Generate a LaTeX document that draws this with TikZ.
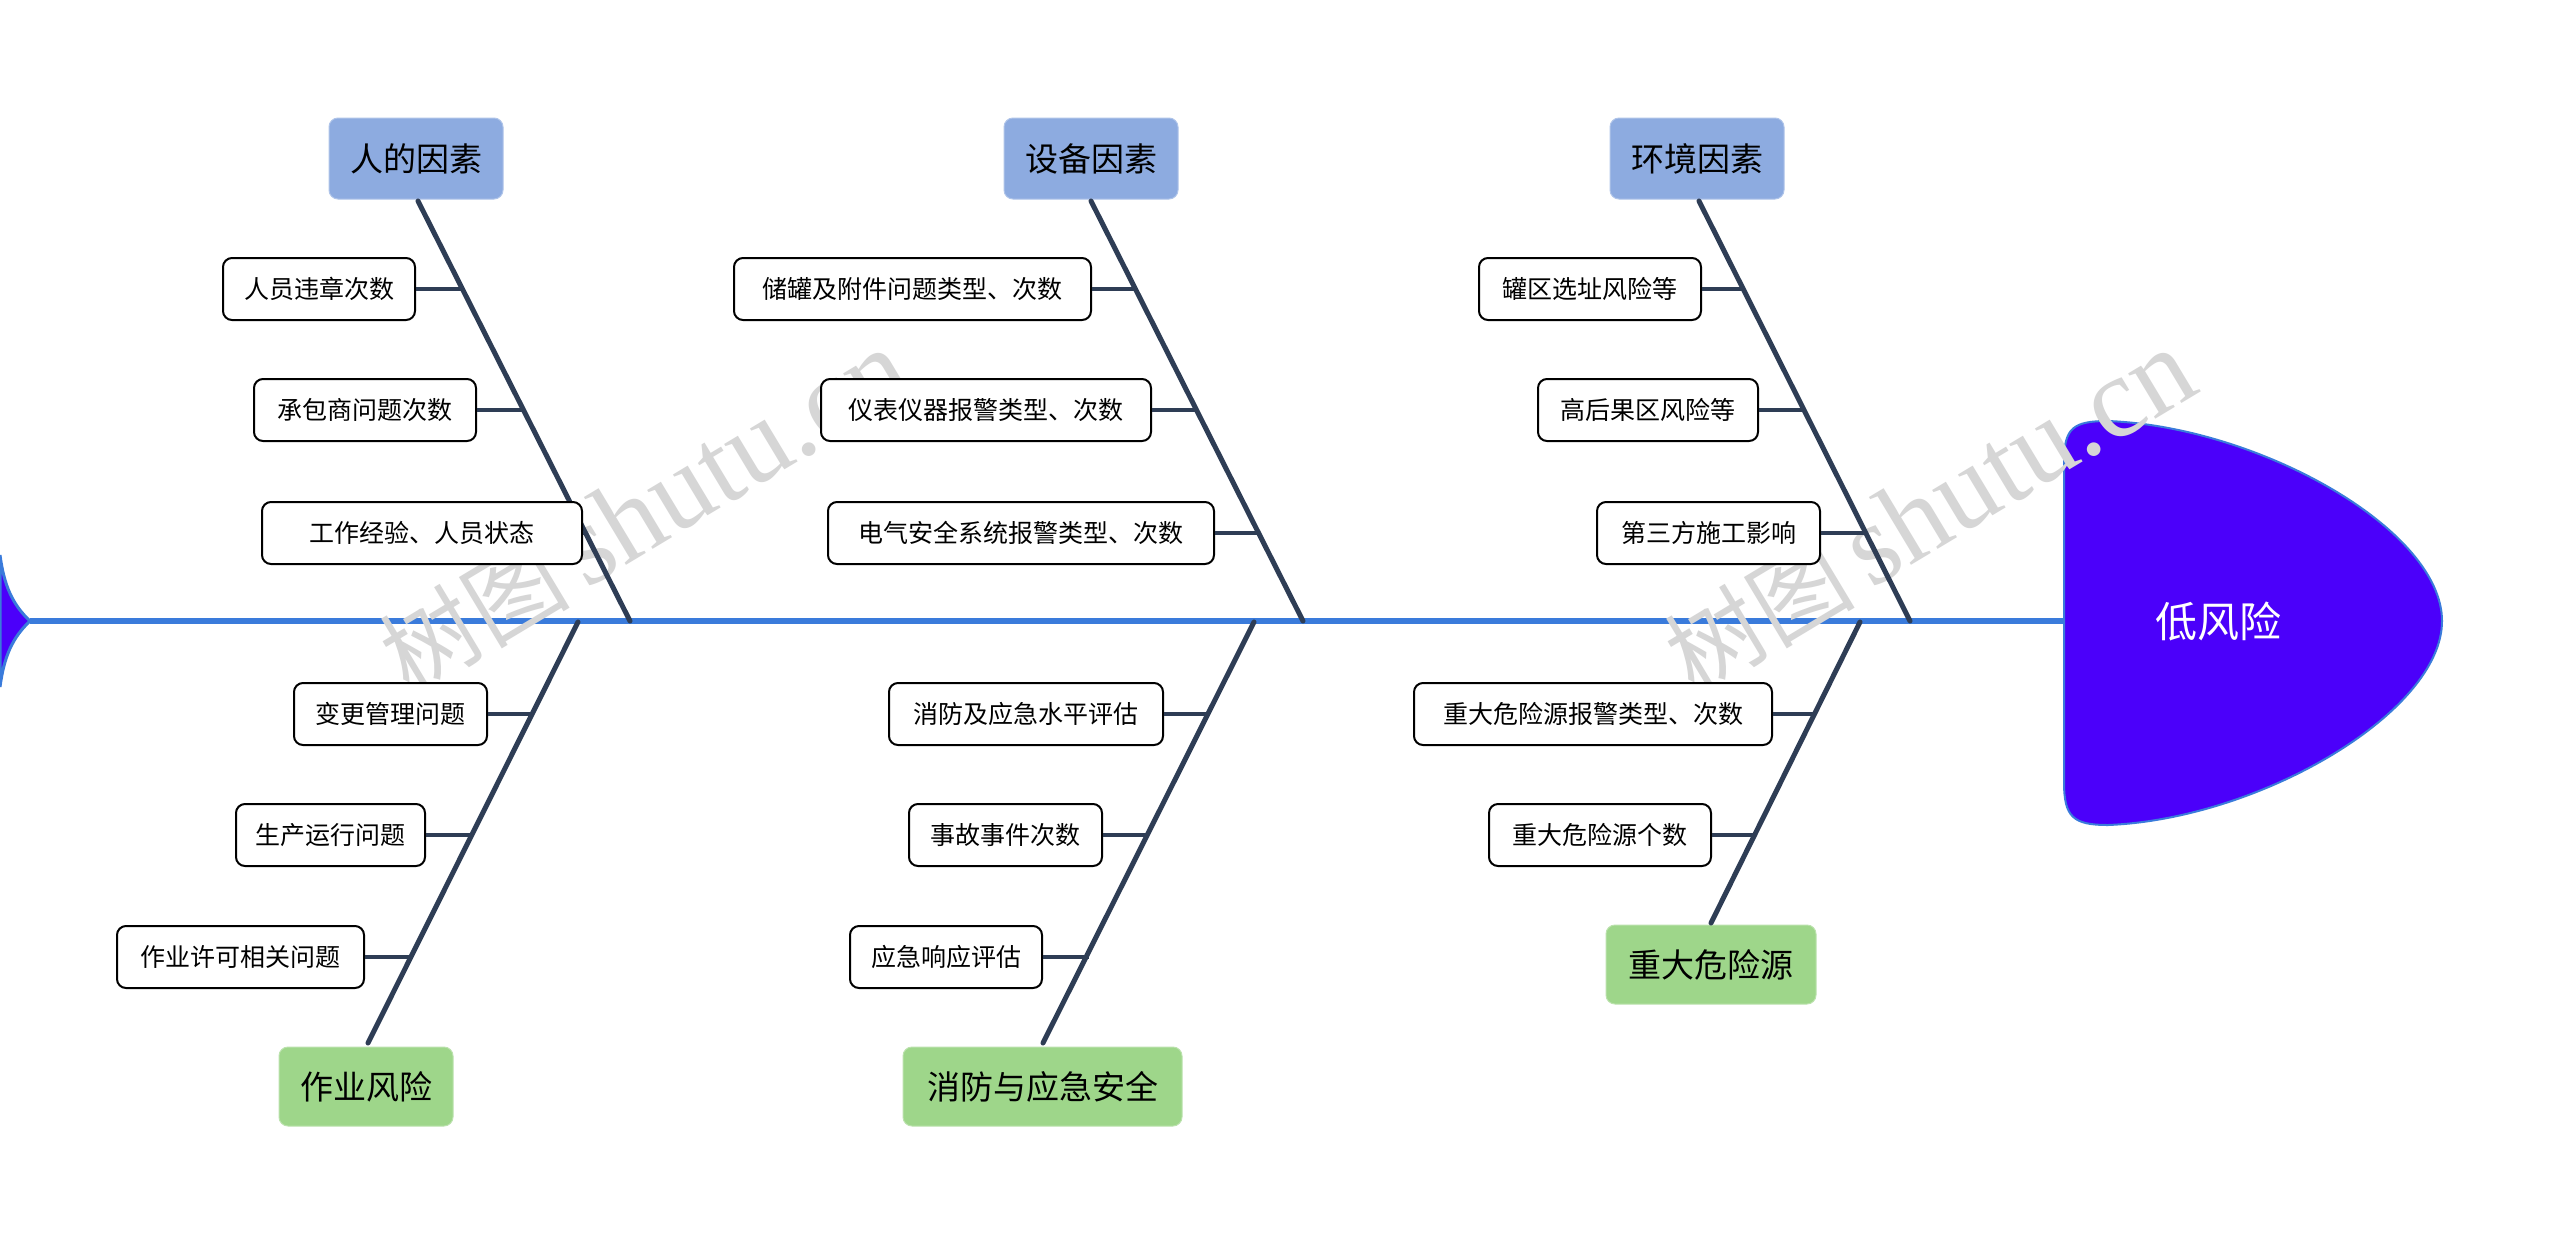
\documentclass[tikz,border=0pt]{standalone}
\usepackage{fontspec}
\setmainfont{Noto Sans CJK SC}
\newfontfamily\wmcjk{Noto Sans CJK SC}
\newfontfamily\wmlat{Liberation Serif}
\begin{document}
\begin{tikzpicture}[x=1pt,y=-1pt,
  sub/.style={draw=black,line width=2pt,rounded corners=9pt,fill=white,font=\fontsize{25}{28}\selectfont,inner sep=0pt},
  catb/.style={rounded corners=9pt,fill=catblue,font=\fontsize{33}{36}\selectfont,inner sep=0pt,draw=catblue!70!white,line width=1pt},
  catg/.style={rounded corners=9pt,fill=catgreen,font=\fontsize{33}{36}\selectfont,inner sep=0pt,draw=catgreen!70!white,line width=1pt},
  bone/.style={draw=bonec,line width=5pt},
  twig/.style={draw=bonec,line width=3.5pt},
  wmark/.style={text=black!16,rotate=31,inner sep=0pt}]
\definecolor{catblue}{HTML}{8DABE0}
\definecolor{catgreen}{HTML}{9ED68A}
\definecolor{bonec}{HTML}{2E3D55}
\definecolor{spinec}{HTML}{3A7BDB}
\definecolor{headc}{HTML}{4B00FA}
\useasboundingbox (0,0) rectangle (2560,1243);
\fill[white] (0,0) rectangle (2560,1243);
\newcommand{\bx}[7]{\node[#1,minimum width={#5-#3},minimum height={#6-#4}] (#2) at ({(#3+#5)/2},{(#4+#6)/2}) {#7};}
% spine
\coordinate (tail) at (30,621);
\coordinate (headl) at (2064,621);
\draw[spinec,line width=6pt] (tail) -- (headl);
% tail
\filldraw[fill=headc,draw=spinec,line width=3pt] (tail) .. controls (12,604) and (4,585) .. (0,555) -- (0,687) .. controls (4,657) and (12,638) .. (tail) -- cycle;
% head
\filldraw[fill=headc,draw=spinec,line width=2pt] (2064,621) -- (2064,462) .. controls (2064,428) and (2073,421) .. (2108,421) .. controls (2260,427) and (2442,530) .. (2442,621) .. controls (2442,712) and (2260,819) .. (2108,825) .. controls (2073,825) and (2064,817) .. (2064,782) -- cycle;
\node[text=white,font=\fontsize{42}{46}\selectfont] (head) at (2218,621) {低风险};
% watermarks
\node[wmark] (wm1) at (645,512) {\wmcjk\fontsize{95}{100}\selectfont 树图\,\wmlat\fontsize{115}{120}\selectfont shutu.cn};
\node[wmark] (wm2) at (1930,512) {\wmcjk\fontsize{95}{100}\selectfont 树图\,\wmlat\fontsize{115}{120}\selectfont shutu.cn};
% spine points
\coordinate (s1) at (630,621); \coordinate (s2) at (1303,621); \coordinate (s3) at (1910,621);
\coordinate (s4) at (578,622); \coordinate (s5) at (1254,622); \coordinate (s6) at (1860,622);
% categories
\bx{catb}{c1}{329}{118}{503}{199}{人的因素}
\bx{catb}{c2}{1004}{118}{1178}{199}{设备因素}
\bx{catb}{c3}{1610}{118}{1784}{199}{环境因素}
\bx{catg}{c4}{279}{1047}{453}{1126}{作业风险}
\bx{catg}{c5}{903}{1047}{1182}{1126}{消防与应急安全}
\bx{catg}{c6}{1606}{925}{1816}{1004}{重大危险源}
\draw[bone,line cap=round] (418,201) -- (s1);
\draw[bone,line cap=round] (1091,201) -- (s2);
\draw[bone,line cap=round] (1699,201) -- (s3);
\draw[bone,line cap=round] (s4) -- (368,1043);
\draw[bone,line cap=round] (s5) -- (1043,1043);
\draw[bone,line cap=round] (s6) -- (1711,923);
% bone points
\coordinate (p11) at (463,289); \coordinate (p12) at (524,410); \coordinate (p13) at (585,533);
\coordinate (p21) at (1136,289); \coordinate (p22) at (1197,410); \coordinate (p23) at (1258,533);
\coordinate (p31) at (1744,289); \coordinate (p32) at (1805,410); \coordinate (p33) at (1866,533);
\coordinate (p41) at (533,714); \coordinate (p42) at (473,835); \coordinate (p43) at (413,957);
\coordinate (p51) at (1209,714); \coordinate (p52) at (1149,835); \coordinate (p53) at (1089,957);
\coordinate (p61) at (1815,714); \coordinate (p62) at (1755,835);
% sub boxes
\bx{sub}{b11}{223}{258}{415}{320}{人员违章次数}
\bx{sub}{b12}{254}{379}{476}{441}{承包商问题次数}
\bx{sub}{b13}{262}{502}{582}{564}{工作经验、人员状态}
\bx{sub}{b21}{734}{258}{1091}{320}{储罐及附件问题类型、次数}
\bx{sub}{b22}{821}{379}{1151}{441}{仪表仪器报警类型、次数}
\bx{sub}{b23}{828}{502}{1214}{564}{电气安全系统报警类型、次数}
\bx{sub}{b31}{1479}{258}{1701}{320}{罐区选址风险等}
\bx{sub}{b32}{1538}{379}{1758}{441}{高后果区风险等}
\bx{sub}{b33}{1597}{502}{1820}{564}{第三方施工影响}
\bx{sub}{b41}{294}{683}{487}{745}{变更管理问题}
\bx{sub}{b42}{236}{804}{425}{866}{生产运行问题}
\bx{sub}{b43}{117}{926}{364}{988}{作业许可相关问题}
\bx{sub}{b51}{889}{683}{1163}{745}{消防及应急水平评估}
\bx{sub}{b52}{909}{804}{1102}{866}{事故事件次数}
\bx{sub}{b53}{850}{926}{1042}{988}{应急响应评估}
\bx{sub}{b61}{1414}{683}{1772}{745}{重大危险源报警类型、次数}
\bx{sub}{b62}{1489}{804}{1711}{866}{重大危险源个数}
\foreach \i in {11,12,13,21,22,23,31,32,33,41,42,43,51,52,53,61,62}{
  \draw[twig] (b\i.east) -- (p\i);
}
\end{tikzpicture}
\end{document}
